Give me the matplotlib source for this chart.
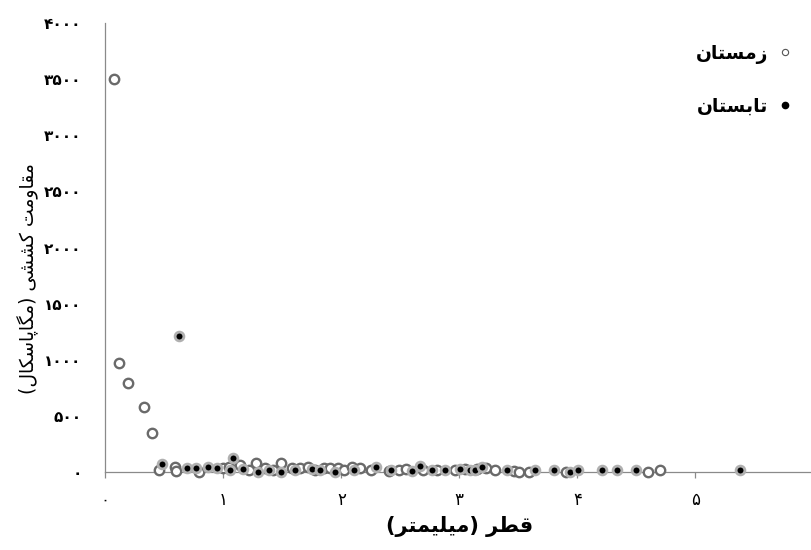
import matplotlib
matplotlib.use("Agg")
import matplotlib.pyplot as plt
from matplotlib.lines import Line2D
from matplotlib.ticker import FuncFormatter

plt.rcParams['font.family'] = ['DejaVu Sans']

# ---------------- data ----------------
winter_x = [0.076, 0.12, 0.195, 0.325, 0.395, 0.458, 0.59, 0.60, 0.79, 1.0, 1.05, 1.14,
            1.22, 1.28, 1.35, 1.42, 1.49, 1.58, 1.65, 1.72, 1.78, 1.85, 1.90, 1.97, 2.02,
            2.09, 2.16, 2.25, 2.40, 2.49, 2.55, 2.69, 2.81, 2.96, 3.05, 3.15, 3.23, 3.30,
            3.46, 3.51, 3.59, 3.90, 4.60, 4.70]
winter_y = [3505, 972, 789, 580, 348, 15, 45, 10, 0, 30, 45, 60,
            15, 75, 30, 15, 75, 30, 30, 45, 15, 30, 30, 30, 15,
            45, 30, 15, 9, 15, 20, 15, 15, 15, 20, 20, 30, 15,
            10, 0, 0, 0, 0, 15]

summer_x = [0.478, 0.627, 0.69, 0.77, 0.873, 0.944, 1.057, 1.08, 1.164, 1.29, 1.387, 1.49,
            1.61, 1.75, 1.82, 1.95, 2.11, 2.29, 2.42, 2.60, 2.67, 2.77, 2.88, 3.01, 3.09,
            3.13, 3.19, 3.40, 3.64, 3.80, 3.94, 4.01, 4.21, 4.34, 4.50, 5.38]
summer_y = [69, 1210, 36, 36, 45, 36, 15, 119, 21, 0, 15, 0,
            15, 21, 15, 0, 15, 45, 15, 9, 51, 15, 15, 24, 15,
            15, 39, 15, 15, 15, 0, 15, 15, 15, 15, 15]

x_ticks = [0, 1, 2, 3, 4, 5, 6]
y_ticks = [0, 500, 1000, 1500, 2000, 2500, 3000, 3500, 4000]

label_winter = "زمستان"
label_summer = "تابستان"
x_title = "قطر (میلیمتر)"
y_title = "مقاومت کششی (مگاپاسکال)"

# ------------- simple Persian shaping (matplotlib has no RTL shaping) -------------
FORMS = {
    '\u0627': ('\uFE8D', '\uFE8E', None, None),
    '\u0628': ('\uFE8F', '\uFE90', '\uFE91', '\uFE92'),
    '\u062A': ('\uFE95', '\uFE96', '\uFE97', '\uFE98'),
    '\u0631': ('\uFEAD', '\uFEAE', None, None),
    '\u0632': ('\uFEAF', '\uFEB0', None, None),
    '\u0633': ('\uFEB1', '\uFEB2', '\uFEB3', '\uFEB4'),
    '\u0634': ('\uFEB5', '\uFEB6', '\uFEB7', '\uFEB8'),
    '\u0637': ('\uFEC1', '\uFEC2', '\uFEC3', '\uFEC4'),
    '\u0642': ('\uFED5', '\uFED6', '\uFED7', '\uFED8'),
    '\u0644': ('\uFEDD', '\uFEDE', '\uFEDF', '\uFEE0'),
    '\u0645': ('\uFEE1', '\uFEE2', '\uFEE3', '\uFEE4'),
    '\u0646': ('\uFEE5', '\uFEE6', '\uFEE7', '\uFEE8'),
    '\u0648': ('\uFEED', '\uFEEE', None, None),
    '\u067E': ('\uFB56', '\uFB57', '\uFB58', '\uFB59'),
    '\u06A9': ('\uFB8E', '\uFB8F', '\uFB90', '\uFB91'),
    '\u0643': ('\uFB8E', '\uFB8F', '\uFB90', '\uFB91'),
    '\u06AF': ('\uFB92', '\uFB93', '\uFB94', '\uFB95'),
    '\u06CC': ('\uFBFC', '\uFBFD', '\uFBFE', '\uFBFF'),
    '\u064A': ('\uFBFC', '\uFBFD', '\uFBFE', '\uFBFF'),
}


def fa(text):
    out = []
    n = len(text)
    for i, c in enumerate(text):
        if c not in FORMS:
            out.append(c)
            continue
        p = text[i - 1] if i > 0 else ''
        nx = text[i + 1] if i < n - 1 else ''
        jp = p in FORMS and FORMS[p][2] is not None
        jn = FORMS[c][2] is not None and nx in FORMS
        iso, fin, ini, med = FORMS[c]
        if jp and jn:
            out.append(med)
        elif jp:
            out.append(fin)
        elif jn:
            out.append(ini)
        else:
            out.append(iso)
    s = ''.join(reversed(out))
    return s.translate(str.maketrans('()', ')('))


FA_DIGITS = str.maketrans('0123456789', '۰۱۲۳۴۵۶۷۸۹')


def fa_num(v, pos=None):
    return str(int(round(v))).translate(FA_DIGITS)


# ---------------- figure ----------------
W, H = 812, 550
fig = plt.figure(figsize=(W / 100, H / 100), dpi=100)
x0, y0 = 105.3, 471.7
px_per_x = 118.0
y_top = 23.3
ax = fig.add_axes([x0 / W, (H - y0) / H, 6 * px_per_x / W, (y0 - y_top) / H])
ax.set_xlim(0, 6)
ax.set_ylim(0, 4000)

ax.scatter(winter_x, winter_y, s=46, facecolors='white', edgecolors='#6a6a6a',
           linewidths=1.7, zorder=3, clip_on=False)
ax.scatter(summer_x, summer_y, s=40, facecolors='black', edgecolors='#b0b0b0',
           linewidths=2.0, zorder=4, clip_on=False)

for side in ('top', 'right'):
    ax.spines[side].set_visible(False)
for side in ('left', 'bottom'):
    ax.spines[side].set_color('#8a8a8a')
    ax.spines[side].set_linewidth(0.9)

ax.set_xticks(x_ticks)
ax.set_yticks(y_ticks)
ax.xaxis.set_major_formatter(FuncFormatter(fa_num))
ax.yaxis.set_major_formatter(FuncFormatter(fa_num))
ax.tick_params(axis='x', direction='out', length=4, width=0.9, color='#8a8a8a',
               pad=10, labelsize=12)
ax.tick_params(axis='y', length=0, pad=17, labelsize=11)
for t in ax.get_yticklabels():
    t.set_fontweight('bold')

ax.set_xlabel(fa(x_title), fontsize=15, fontweight='bold', labelpad=5)
ax.set_ylabel(fa(y_title), fontsize=13.5)
ax.yaxis.set_label_coords(-0.094, 0.43)

handles = [
    Line2D([], [], linestyle='none', marker='o', markersize=4.5,
           markerfacecolor='white', markeredgecolor='#555555', markeredgewidth=0.8),
    Line2D([], [], linestyle='none', marker='o', markersize=4.5,
           markerfacecolor='black', markeredgecolor='black'),
]
leg = ax.legend(handles, [fa(label_winter), fa(label_summer)],
                loc='upper right', bbox_to_anchor=(791 / W, (H - 44) / H),
                bbox_transform=fig.transFigure, frameon=False, markerfirst=False,
                handlelength=0.6, handletextpad=0.6, labelspacing=1.75,
                borderpad=0, borderaxespad=0,
                prop={'size': 13.5, 'weight': 'bold'})

fig.savefig('out.png', dpi=100)
